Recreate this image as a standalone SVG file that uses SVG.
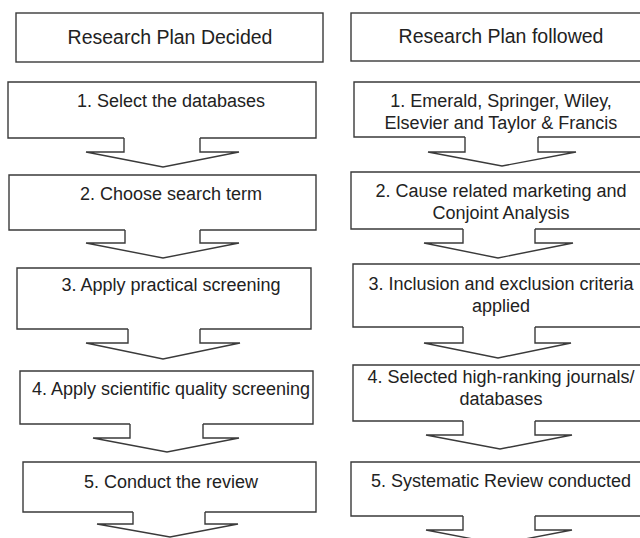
<svg xmlns="http://www.w3.org/2000/svg" width="640" height="538" viewBox="0 0 640 538">
  <style>
    .box { fill: #ffffff; stroke: #3a3a3a; stroke-width: 1.4; stroke-linejoin: miter; }
    .flow { fill: #ffffff; stroke: #3a3a3a; stroke-width: 1.4; stroke-linejoin: miter; }
    .hd { font-family: "Liberation Sans", Arial, sans-serif; font-size: 19.5px; fill: #222222; text-anchor: middle; }
    .tx { font-family: "Liberation Sans", Arial, sans-serif; font-size: 18px; fill: #222222; text-anchor: middle; }
  </style>
  <rect width="640" height="538" fill="#ffffff"/>

  <!-- left column: plan as decided -->
  <g id="left-header">
    <rect class="box" x="16" y="13" width="307" height="49"/>
    <text class="hd" x="170" y="43.5">Research Plan Decided</text>
  </g>
  <g id="left-step1">
    <path class="box" d="M124,138 H8 V82 H316 V138 H200"/>
    <text class="tx" x="171" y="107">1. Select the databases</text>
  </g>
  <g id="left-step2">
    <path class="box" d="M125,230 H9 V175 H316 V230 H200"/>
    <text class="tx" x="171" y="200">2. Choose search term</text>
  </g>
  <g id="left-step3">
    <path class="box" d="M128,329 H17 V268 H311 V329 H200"/>
    <text class="tx" x="171" y="291">3. Apply practical screening</text>
  </g>
  <g id="left-step4">
    <path class="box" d="M130,424 H20 V371 H313 V424 H203"/>
    <text class="tx" x="171" y="395">4. Apply scientific quality screening</text>
  </g>
  <g id="left-step5">
    <path class="box" d="M133,512 H23 V462 H316 V512 H205"/>
    <text class="tx" x="171" y="488">5. Conduct the review</text>
  </g>

  <!-- right column: plan as followed -->
  <g id="right-header">
    <rect class="box" x="351" y="13" width="294" height="48"/>
    <text class="hd" x="501" y="43">Research Plan followed</text>
  </g>
  <g id="right-step1">
    <path class="box" d="M465,137 H354 V82 H645 V137 H538"/>
    <text class="tx" x="501" y="107">1. Emerald, Springer, Wiley,</text>
    <text class="tx" x="501" y="129">Elsevier and Taylor &amp; Francis</text>
  </g>
  <g id="right-step2">
    <path class="box" d="M463,229 H351 V172 H645 V229 H535"/>
    <text class="tx" x="501" y="197">2. Cause related marketing and</text>
    <text class="tx" x="501" y="218.5">Conjoint Analysis</text>
  </g>
  <g id="right-step3">
    <path class="box" d="M463,327 H353 V264 H645 V327 H535"/>
    <text class="tx" x="501" y="290">3. Inclusion and exclusion criteria</text>
    <text class="tx" x="501" y="312">applied</text>
  </g>
  <g id="right-step4">
    <path class="box" d="M463,421 H353 V365 H645 V421 H535"/>
    <text class="tx" x="501" y="383">4. Selected high-ranking journals/</text>
    <text class="tx" x="501" y="405">databases</text>
  </g>
  <g id="right-step5">
    <path class="box" d="M463,516 H351 V462 H645 V516 H535"/>
    <text class="tx" x="501" y="487">5. Systematic Review conducted</text>
  </g>

  <!-- block arrows leading down from each step -->
  <g id="connectors">
    <path class="flow" d="M200,138 V152 H239 L163,167 L86,152 H124 V138"/>
    <path class="flow" d="M200,230 V243 H239 L163,258 L86,243 H125 V230"/>
    <path class="flow" d="M200,329 V343 H240 L163,359 L86,343 H128 V329"/>
    <path class="flow" d="M203,424 V438 H239 L167,452 L93,438 H130 V424"/>
    <path class="flow" d="M205,512 V524 H238 L170,537 L97,524 H133 V512"/>

    <path class="flow" d="M538,137 V152 H576 L502,166 L428,152 H465 V137"/>
    <path class="flow" d="M535,229 V243 H573 L498,258 L424,243 H463 V229"/>
    <path class="flow" d="M535,327 V343 H571 L498,358 L424,343 H463 V327"/>
    <path class="flow" d="M535,421 V435 H572 L500,449 L426,435 H463 V421"/>
    <path class="flow" d="M535,516 V530 H572 L499,544 L426,530 H463 V516"/>
  </g>
</svg>
